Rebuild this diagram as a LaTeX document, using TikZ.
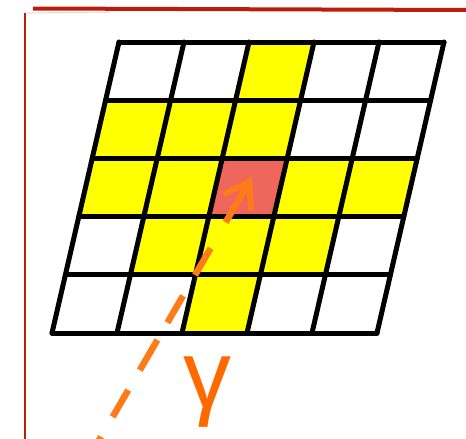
\documentclass[tikz,border=0pt]{standalone}
\usepackage{fontspec}
\setmainfont{Liberation Sans}
\usetikzlibrary{arrows.meta}
\definecolor{cellyellow}{RGB}{255,255,0}
\definecolor{cellred}{RGB}{238,102,92}
\definecolor{framered}{RGB}{186,30,10}
\definecolor{arroworange}{RGB}{255,122,24}
\definecolor{gammaorange}{RGB}{255,105,0}
\tikzset{
  gridline/.style={line width=5pt, black, line cap=round, line join=round},
  yellowcell/.style={fill=cellyellow},
  redcell/.style={fill=cellred},
  framestroke/.style={framered},
  dasharrow/.style={arroworange, line width=6.5pt,
    dash pattern=on 44pt off 30pt on 31pt off 24pt on 31pt off 20pt on 35pt off 23pt on 31pt off 23pt on 80pt},
  gammalabel/.style={text=gammaorange, font=\fontsize{96}{96}\selectfont, inner sep=0pt, anchor=base}
}
\begin{document}
\begin{tikzpicture}[x=1pt,y=-1pt]
\useasboundingbox (0,0) rectangle (466,439);
\fill[white] (0,0) rectangle (466,439);
% frame
\coordinate (ftl) at (33,8.5);
\coordinate (ftr) at (466,10);
\coordinate (fl1) at (25,13);
\coordinate (fl2) at (25,439);
\draw[framestroke, line width=4pt] (ftl) -- (ftr);
\draw[framestroke, line width=2pt] (fl1) -- (fl2);
\draw[black!15, line width=1pt] (27,13) -- (110,12);
% grid points
\foreach \r in {0,...,5}{
  \foreach \c in {0,...,5}{
    \coordinate (p\c\r) at ({119+65*\c-13.4*\r},{42+58.2*\r});
  }
}
% cells
\foreach \c/\r in {2/0,0/1,1/1,2/1,0/2,1/2,3/2,4/2,1/3,2/3,3/3,2/4}{
  \fill[yellowcell] ({119+65*\c-13.4*\r},{42+58.2*\r}) -- ++(65,0) -- ++(-13.4,58.2) -- ++(-65,0) -- cycle;
}
\fill[redcell] ({119+65*2-13.4*2},{42+58.2*2}) -- ++(65,0) -- ++(-13.4,58.2) -- ++(-65,0) -- cycle;
% grid lines
\foreach \r in {0,...,5}{ \draw[gridline] (p0\r) -- (p5\r); }
\foreach \c in {0,...,5}{ \draw[gridline] (p\c0) -- (p\c5); }
% arrow
\coordinate (tip) at (252,177);
\coordinate (tail) at (94,449);
\draw[dasharrow, {Straight Barb[length=24pt,width=32pt,line width=6pt]}-] (tip) -- (tail);
% label
\node[gammalabel] (gamma) at (207,407) {γ};
\end{tikzpicture}
\end{document}
